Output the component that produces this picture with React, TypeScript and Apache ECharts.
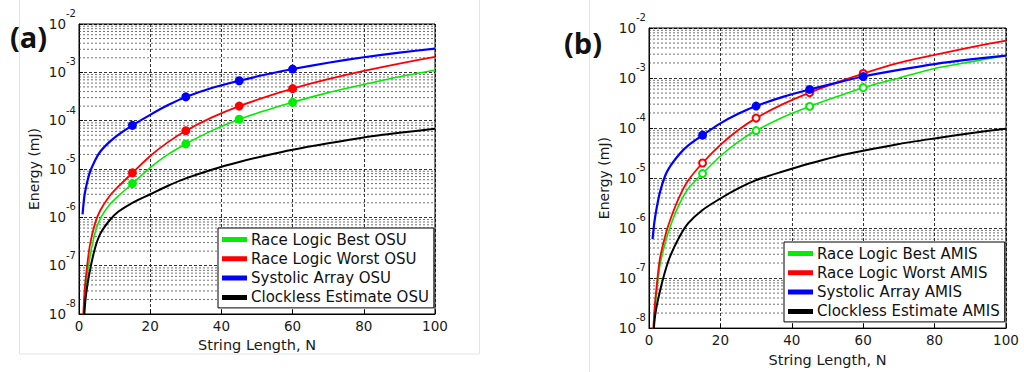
import React, { useEffect, useRef } from "react";
import * as echarts from "echarts";

// String length N at which values were read
const N = [1, 1.5, 2, 3, 4.5, 6, 8.5, 11, 15, 20, 25, 30, 37.5, 45, 52.5, 60, 70, 80, 90, 100];
const markerN = [15, 30, 45, 60];

// Panel (a) OSU
const bestOSU = [2e-9, 1.2e-8, 4.2e-8, 1.4e-7, 4.8e-7, 9.5e-7, 1.8e-6, 2.75e-6, 5e-6, 1.07e-5, 2e-5, 3.3e-5, 6.3e-5, 1.07e-4, 1.63e-4, 2.4e-4, 3.8e-4, 5.6e-4, 8.1e-4, 1.1e-3];
const worstOSU = [4e-9, 2.6e-8, 6.5e-8, 2.5e-7, 7.5e-7, 1.4e-6, 2.7e-6, 4.3e-6, 8.3e-6, 1.86e-5, 3.6e-5, 6.2e-5, 1.18e-4, 2.0e-4, 3.1e-4, 4.6e-4, 7.2e-4, 1.07e-3, 1.52e-3, 2.1e-3];
const systolicOSU = [1.15e-6, 2.7e-6, 4.3e-6, 8.3e-6, 1.5e-5, 2.3e-5, 3.6e-5, 5.1e-5, 8e-5, 1.32e-4, 2.1e-4, 3.1e-4, 4.8e-4, 6.7e-4, 9e-4, 1.17e-3, 1.58e-3, 2.05e-3, 2.55e-3, 3.1e-3];
const clocklessOSU = [2e-9, 1e-8, 2.6e-8, 7.5e-8, 2.3e-7, 4.6e-7, 8.5e-7, 1.3e-6, 2.0e-6, 3.0e-6, 4.5e-6, 6.4e-6, 9.8e-6, 1.4e-5, 1.9e-5, 2.5e-5, 3.4e-5, 4.5e-5, 5.6e-5, 6.8e-5];

// Panel (b) AMIS
const bestAMIS = [4e-9, 1.7e-8, 4.2e-8, 1.7e-7, 4.9e-7, 1.1e-6, 3e-6, 6.2e-6, 1.23e-5, 2.76e-5, 5.3e-5, 8.9e-5, 1.65e-4, 2.7e-4, 4.2e-4, 6.4e-4, 1.0e-3, 1.55e-3, 2.1e-3, 2.8e-3];
const worstAMIS = [5e-9, 2.2e-8, 5.5e-8, 2.3e-7, 6.8e-7, 1.5e-6, 4.2e-6, 9e-6, 2.0e-5, 4.6e-5, 9.1e-5, 1.58e-4, 3e-4, 5.1e-4, 8.1e-4, 1.23e-3, 2.0e-3, 2.9e-3, 4.1e-3, 5.6e-3];
const systolicAMIS = [6e-7, 1.3e-6, 2.2e-6, 5e-6, 1.1e-5, 1.75e-5, 3.0e-5, 4.5e-5, 7.2e-5, 1.24e-4, 1.92e-4, 2.75e-4, 4.2e-4, 5.9e-4, 8e-4, 1.07e-3, 1.45e-3, 1.9e-3, 2.35e-3, 2.8e-3];
const clocklessAMIS = [4e-9, 1.3e-8, 2.4e-8, 5.2e-8, 1.35e-7, 2.8e-7, 6.6e-7, 1.25e-6, 2.3e-6, 3.9e-6, 6.2e-6, 9.1e-6, 1.35e-5, 1.95e-5, 2.7e-5, 3.5e-5, 4.8e-5, 6.2e-5, 7.9e-5, 9.7e-5];

const namesA = ["Race Logic Best OSU", "Race Logic Worst OSU", "Systolic Array OSU", "Clockless Estimate OSU"];
const namesB = ["Race Logic Best AMIS", "Race Logic Worst AMIS", "Systolic Array AMIS", "Clockless Estimate AMIS"];
const colors = ["#00ee00", "#ff0000", "#0000ff", "#000000"];
const widths = [1.6, 1.8, 2.2, 2];
const decadeExps = [-8, -7, -6, -5, -4, -3];
const minorMult = [2, 3, 4, 5, 6, 7, 8, 9];

const FONT = "'DejaVu Sans', 'Liberation Sans', sans-serif";

function mkData(vals: number[], markers: boolean, empty: boolean) {
  return N.map((x, i) => {
    const isM = markers && markerN.includes(x);
    return {
      value: [x, vals[i]],
      symbol: isM ? (empty ? "emptyCircle" : "circle") : "none",
      symbolSize: isM ? 7 : 0,
    };
  });
}

function axesFor(idx: number, xNameGap: number) {
  const x = {
    type: "value",
    gridIndex: idx,
    min: 0,
    max: 100,
    interval: 20,
    name: "String Length, N",
    nameLocation: "middle",
    nameGap: xNameGap,
    nameTextStyle: { fontFamily: FONT, fontSize: 14.5, color: "#1a1a1a" },
    axisLine: { show: true, lineStyle: { color: "#000", width: 1 } },
    axisTick: { show: true, inside: true, length: 4, lineStyle: { color: "#000" } },
    axisLabel: { fontFamily: FONT, fontSize: 13.5, color: "#1a1a1a", margin: 5 },
    splitLine: { show: true, lineStyle: { color: "#000", type: [3, 2], width: 0.8 } },
  };
  const y = {
    type: "log",
    gridIndex: idx,
    logBase: 10,
    min: 1e-8,
    max: 1e-2,
    splitNumber: 6,
    name: "Energy (mJ)",
    nameLocation: "middle",
    nameGap: 38,
    nameTextStyle: { fontFamily: FONT, fontSize: 14, color: "#1a1a1a" },
    axisLine: { show: true, lineStyle: { color: "#000", width: 1 } },
    axisTick: { show: true, inside: true, length: 4, lineStyle: { color: "#000" } },
    axisLabel: {
      margin: 3,
      padding: [0, 0, 9, 0],
      formatter: (v: number) => `{b|10}{s|${Math.round(Math.log10(v))}}`,
      rich: {
        b: { fontFamily: FONT, fontSize: 13.5, color: "#1a1a1a", verticalAlign: "bottom", lineHeight: 22 },
        s: { fontFamily: FONT, fontSize: 10, color: "#1a1a1a", verticalAlign: "top", lineHeight: 22 },
      },
    },
    splitLine: { show: true, lineStyle: { color: "#000", type: [3, 2], width: 0.8 } },
  };
  return { x, y };
}

function minorGridSeries(idx: number) {
  const out: any[] = [];
  decadeExps.forEach((e) =>
    minorMult.forEach((m) => {
      const v = m * Math.pow(10, e);
      out.push({
        type: "line",
        name: `_minor${idx}_${e}_${m}`,
        xAxisIndex: idx,
        yAxisIndex: idx,
        data: [[0, v], [100, v]],
        symbol: "none",
        silent: true,
        z: 1,
        lineStyle: { color: "#333", type: [2, 2], width: 0.7 },
      });
    })
  );
  return out;
}

function seriesFor(idx: number, names: string[], vals: number[][], empty: boolean) {
  const s: any[] = minorGridSeries(idx);
  names.forEach((nm, k) => {
    s.push({
      type: "line",
      name: nm,
      xAxisIndex: idx,
      yAxisIndex: idx,
      data: mkData(vals[k], k < 3, empty && k < 2),
      showSymbol: true,
      smooth: 0.25,
      color: colors[k],
      lineStyle: { color: colors[k], width: widths[k] },
      itemStyle: { color: colors[k], borderColor: colors[k], borderWidth: 2 },
      clip: true,
      z: 3,
    });
  });
  return s;
}

export default function App() {
  const ref = useRef<HTMLDivElement>(null);
  useEffect(() => {
    if (!ref.current) return;
    const chart = echarts.init(ref.current, undefined, { renderer: "svg" });
    const a = axesFor(0, 19);
    const b = axesFor(1, 19);
    const legendCommon = {
      orient: "vertical",
      icon: "rect",
      itemWidth: 23,
      itemHeight: 3,
      itemGap: 4.3,
      backgroundColor: "#fff",
      borderColor: "#000",
      borderWidth: 1,
      borderRadius: 0,
      textStyle: { fontFamily: FONT, fontSize: 15, color: "#111", lineHeight: 15 },
    };
    chart.setOption({
      animation: false,
      backgroundColor: "#fff",
      grid: [
        { left: 79, top: 24, width: 356, height: 290, show: true, borderColor: "#000", borderWidth: 1, backgroundColor: "#fff" },
        { left: 649, top: 28, width: 357, height: 303, show: true, borderColor: "#000", borderWidth: 1, backgroundColor: "#fff" },
      ],
      xAxis: [a.x, b.x],
      yAxis: [a.y, b.y],
      legend: [
        { ...legendCommon, data: namesA, left: 218, top: 228, padding: [4, 5, 3, 4] },
        { ...legendCommon, data: namesB, left: 784, top: 242, padding: [4, 5, 3, 4] },
      ],
      graphic: [
        { type: "rect", shape: { x: 19.5, y: -1, width: 460, height: 355 }, style: { fill: "none", stroke: "#e4e4e4", lineWidth: 1 }, silent: true, z: -10 },
        { type: "line", shape: { x1: 589.5, y1: 0, x2: 589.5, y2: 372 }, style: { stroke: "#e4e4e4", lineWidth: 1 }, silent: true, z: -10 },
        { type: "text", left: 10, top: 22, style: { text: "(a)", font: "bold 29px 'Open Sans', 'Liberation Sans', sans-serif", fill: "#111" } },
        { type: "text", left: 564, top: 28, style: { text: "(b)", font: "bold 29px 'Open Sans', 'Liberation Sans', sans-serif", fill: "#111" } },
      ],
      series: [
        ...seriesFor(0, namesA, [bestOSU, worstOSU, systolicOSU, clocklessOSU], false),
        ...seriesFor(1, namesB, [bestAMIS, worstAMIS, systolicAMIS, clocklessAMIS], true),
      ],
    });
    return () => chart.dispose();
  }, []);
  return (
    <div
      ref={ref}
      style={{ position: "fixed", left: 0, top: 0, width: 1024, height: 372, background: "#fff" }}
    />
  );
}
